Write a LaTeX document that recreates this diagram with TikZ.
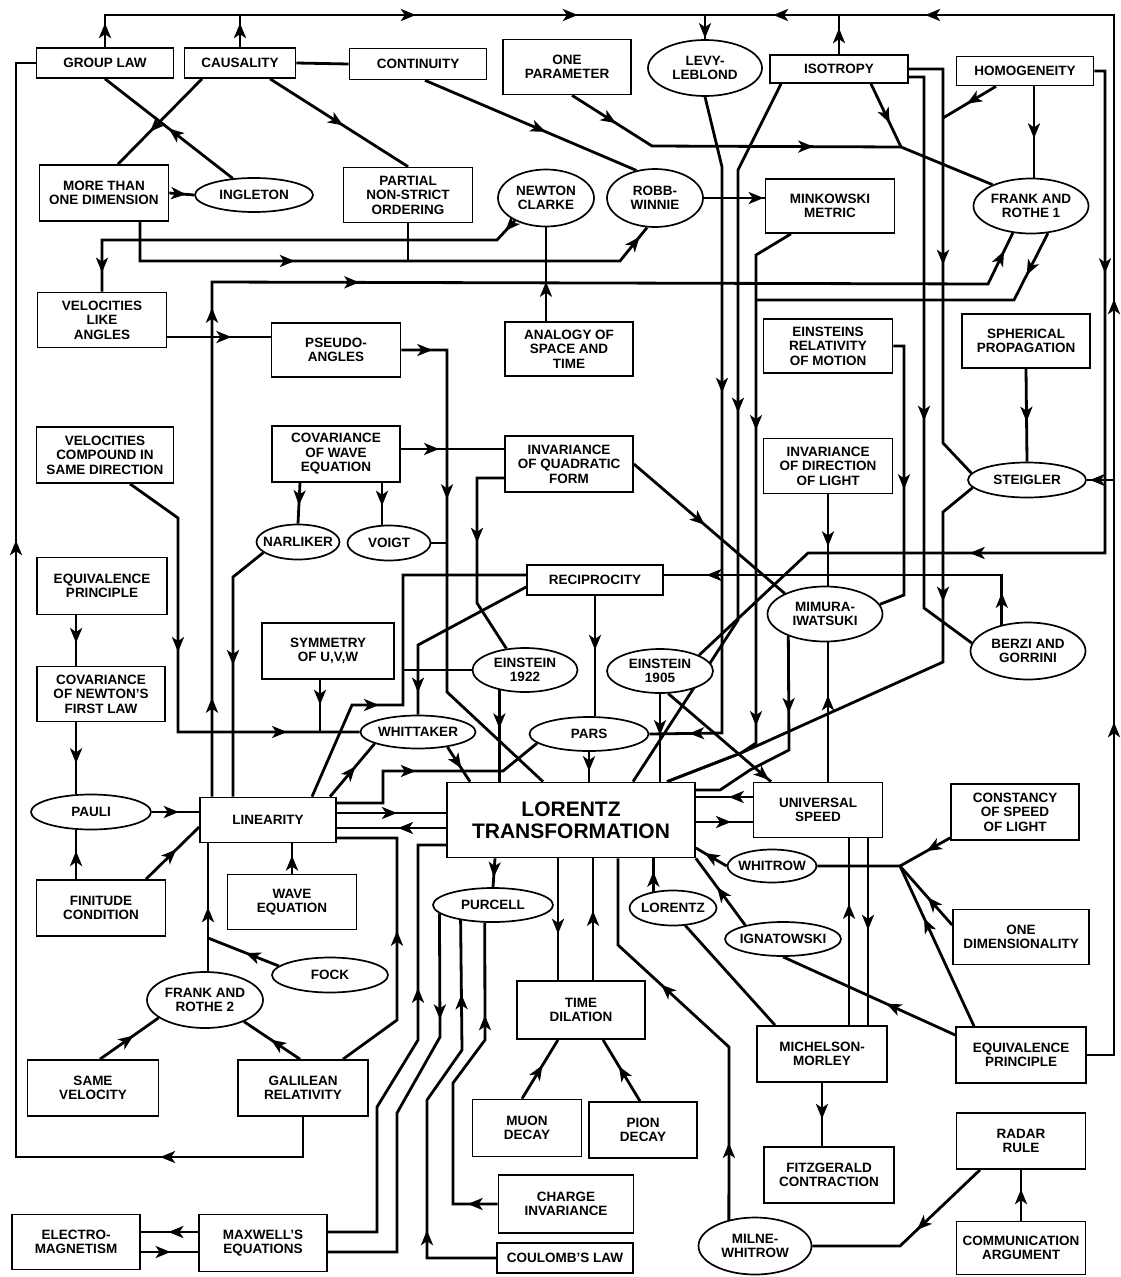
\documentclass[tikz,border=0pt]{standalone}
\usepackage{fontspec}
\setsansfont{Liberation Sans}
\usetikzlibrary{shapes.geometric, arrows.meta, decorations.markings, backgrounds}

\begin{document}
\begin{tikzpicture}[x=1pt, y=-1pt, >={Stealth[length=15pt,width=12pt,inset=4pt]},
    every node/.style={font=\sffamily\bfseries\fontsize{13.5}{14.5}\selectfont, align=center},
    box/.style={draw, fill=white, line width=1.7pt, minimum width=129pt, minimum height=55pt, inner sep=1pt},
    oval/.style={ellipse, draw, fill=white, line width=1.7pt, minimum width=115pt, minimum height=35pt, inner xsep=-6pt, inner ysep=0pt},
    link/.style={line width=2.8pt},
    ar/.style={postaction={decorate, decoration={markings, mark=at position #1 with {\arrow{>}}}}}]
  \useasboundingbox (0,0) rectangle (1121,1277);

  % Rails round the edge
  \coordinate (top) at (0,15);
  \coordinate (rail) at (1114,0);
  \coordinate (lrail) at (16,0);
  \coordinate (brail) at (0,1157);

  % Top rows
  \node[box, minimum width=137pt, minimum height=30pt] (group) at (105,63) {GROUP LAW};
  \node[box, minimum width=111pt, minimum height=30pt] (caus) at (240,63) {CAUSALITY};
  \node[box, minimum width=137pt, minimum height=31pt] (cont) at (418,64) {CONTINUITY};
  \node[box, minimum width=128pt] (onep) at (567,67) {ONE\\PARAMETER};
  \node[oval, minimum width=114pt, minimum height=56pt] (levy) at (705,68) {LEVY-\\LEBLOND};
  \node[box, minimum width=138pt, minimum height=28pt] (iso) at (839,69) {ISOTROPY};
  \node[box, minimum width=137pt, minimum height=29pt] (homo) at (1025,71) {HOMOGENEITY};
  \node[box, minimum height=56pt] (mtod) at (104,193) {MORE THAN\\ONE DIMENSION};
  \node[oval, minimum width=118pt, minimum height=34pt] (ingl) at (254,195) {INGLETON};
  \node[box] (pnso) at (408,195) {PARTIAL\\NON-STRICT\\ORDERING};
  \node[oval, minimum width=96pt, minimum height=57pt] (newt) at (546,198) {NEWTON\\CLARKE};
  \node[oval, minimum width=96pt, minimum height=58pt] (robb) at (655,198) {ROBB-\\WINNIE};
  \node[box, minimum height=54pt] (mink) at (830,206) {MINKOWSKI\\METRIC};
  \node[oval, minimum height=55pt] (fr1) at (1031,206) {FRANK AND\\ROTHE 1};

  % Middle rows
  \node[box] (vla) at (102,320) {VELOCITIES\\LIKE\\ANGLES};
  \node[box, minimum height=54pt] (pseudo) at (336,350) {PSEUDO-\\ANGLES};
  \node[box, minimum width=128pt, minimum height=54pt] (analogy) at (569,349) {ANALOGY OF\\SPACE AND\\TIME};
  \node[box, minimum height=54pt] (erm) at (828,346) {EINSTEINS\\RELATIVITY\\OF MOTION};
  \node[box, minimum width=128pt, minimum height=54pt] (sph) at (1026,341) {SPHERICAL\\PROPAGATION};
  \node[box, minimum width=137pt, minimum height=56pt] (vcsd) at (105,455) {VELOCITIES\\COMPOUND IN\\SAME DIRECTION};
  \node[box, minimum width=128pt, minimum height=56pt] (cwe) at (336,454) {COVARIANCE\\OF WAVE\\EQUATION};
  \node[box, minimum width=128pt, minimum height=56pt] (iqf) at (569,464) {INVARIANCE\\OF QUADRATIC\\FORM};
  \node[box] (idl) at (828,466) {INVARIANCE\\OF DIRECTION\\OF LIGHT};
  \node[oval, minimum width=118pt] (steig) at (1027,480) {STEIGLER};
  \node[oval, minimum width=83pt] (narl) at (298,542) {NARLIKER};
  \node[oval, minimum width=83pt] (voigt) at (389,543) {VOIGT};
  \node[box, minimum width=130pt, minimum height=57pt] (ep1) at (102,586) {EQUIVALENCE\\PRINCIPLE};
  \node[box, minimum width=136pt, minimum height=30pt] (recip) at (595,580) {RECIPROCITY};
  \node[oval, minimum height=55pt] (mimura) at (825,614) {MIMURA-\\IWATSUKI};
  \node[oval, minimum height=57pt] (berzi) at (1028,651) {BERZI AND\\GORRINI};
  \node[box, minimum width=128pt] (cnfl) at (101,694) {COVARIANCE\\OF NEWTON'S\\FIRST LAW};
  \node[box, minimum width=132pt, minimum height=56pt] (sym) at (328,651) {SYMMETRY\\OF U,V,W};
  \node[oval, minimum width=105pt, minimum height=44pt] (e1922) at (525,670) {EINSTEIN\\1922};
  \node[oval, minimum width=106pt, minimum height=44pt] (e1905) at (660,671) {EINSTEIN\\1905};
  \node[oval, minimum height=33pt] (whit) at (418,732) {WHITTAKER};
  \node[oval, minimum width=119pt, minimum height=34pt] (pars) at (589,734) {PARS};

  % Centre row
  \node[oval, minimum width=120pt] (pauli) at (91,812) {PAULI};
  \node[box, minimum width=136pt, minimum height=45pt] (lin) at (268,820) {LINEARITY};
  \node[box, minimum width=248pt, minimum height=75pt, font=\sffamily\bfseries\fontsize{21}{22}\selectfont] (lt) at (571,820) {LORENTZ\\TRANSFORMATION};
  \node[box] (us) at (818,810) {UNIVERSAL\\SPEED};
  \node[box, minimum width=128pt, minimum height=56pt] (csl) at (1015,812) {CONSTANCY\\OF SPEED\\OF LIGHT};
  \node[oval, minimum width=89pt, minimum height=33pt] (whitrow) at (772,866) {WHITROW};

  % Lower rows
  \node[box, minimum height=56pt] (fin) at (101,908) {FINITUDE\\CONDITION};
  \node[box] (wave) at (292,902) {WAVE\\EQUATION};
  \node[oval, minimum width=120pt, minimum height=34pt] (purc) at (493,905) {PURCELL};
  \node[oval, minimum width=87pt] (lor) at (673,908) {LORENTZ};
  \node[oval, minimum width=116pt, minimum height=34pt] (ign) at (783,939) {IGNATOWSKI};
  \node[box, minimum width=136pt] (onedim) at (1021,937) {ONE\\DIMENSIONALITY};
  \node[oval, minimum width=116pt] (fock) at (330,975) {FOCK};
  \node[oval, minimum width=116pt, minimum height=56pt] (fr2) at (205,1000) {FRANK AND\\ROTHE 2};
  \node[box, minimum width=128pt, minimum height=58pt] (td) at (581,1010) {TIME\\DILATION};
  \node[box, minimum width=130pt, minimum height=56pt] (mm) at (822,1054) {MICHELSON-\\MORLEY};
  \node[box, minimum width=130pt, minimum height=56pt] (ep2) at (1021,1055) {EQUIVALENCE\\PRINCIPLE};
  \node[box, minimum width=131pt, minimum height=56pt] (samev) at (93,1088) {SAME\\VELOCITY};
  \node[box, minimum width=130pt, minimum height=56pt] (gal) at (303,1088) {GALILEAN\\RELATIVITY};
  \node[box, minimum width=109pt, minimum height=57pt] (muon) at (527,1128) {MUON\\DECAY};
  \node[box, minimum width=108pt, minimum height=56pt] (pion) at (643,1130) {PION\\DECAY};
  \node[box, minimum width=130pt, minimum height=56pt] (fitz) at (829,1175) {FITZGERALD\\CONTRACTION};
  \node[box, minimum height=56pt] (radar) at (1021,1141) {RADAR\\RULE};
  \node[box, minimum width=135pt, minimum height=58pt] (charge) at (566,1204) {CHARGE\\INVARIANCE};
  \node[box, minimum width=136pt, minimum height=30pt] (coul) at (565,1258) {COULOMB'S LAW};
  \node[oval, minimum width=113pt, minimum height=57pt] (milne) at (755,1246) {MILNE-\\WHITROW};
  \node[box, minimum height=53pt] (comm) at (1021,1248) {COMMUNICATION\\ARGUMENT};
  \node[box, minimum width=128pt] (em) at (76,1242) {ELECTRO-\\MAGNETISM};
  \node[box, minimum width=128pt, minimum height=57pt] (maxw) at (263,1243) {MAXWELL'S\\EQUATIONS};

  \coordinate (j1) at (901,147);
  \coordinate (j2) at (943,118);
  \coordinate (j3) at (900,866);
  \coordinate (jf) at (208,938);

  \begin{pgfonlayer}{background}
  % Top rail
  \draw[link, ar=24pt, ar=343pt, ar=505pt, ar=-1pt] (group.north) |- (levy.north |- top) -- (levy.north);
  \draw[link, ar=24pt] (caus.north) -- (caus.north |- top);
  \draw[link, ar=360pt, ar=783pt, ar=1256pt, ar=1408pt] (ep2.east) -| (rail |- top) -- (levy.north |- top);
  \draw[link, ar=26pt] (iso.north) -- (iso.north |- top);
  \draw[link, ar=-3pt] (rail |- steig.east) -- (steig.east);

  % Top left
  \draw[link, ar=0.5] (ingl.142) -- (group.south);
  \draw[link, ar=0.62] ([xshift=-38pt]caus.south) -- ([xshift=14pt]mtod.north);
  \draw[link, ar=0.53] ([xshift=30pt]caus.south) -- (pnso.north);
  \draw[link] (caus.east) -- (cont.west);
  \draw[link, ar=0.57] ([xshift=7pt]cont.south) -- (robb.124);
  \draw[link, ar=-8pt] (mtod.east) -- (ingl.west);
  \draw[link, ar=194pt, ar=-12pt] ([xshift=36pt]mtod.south) -- (140,261) -- (620,261) -- (robb.255);
  \draw[link] (pnso.south) -- ++(0,39);
  \draw[link, ar=14pt, ar=454pt] (newt.216) -- (497,240) -- (102,240) -- (vla.north);
  \draw[link, ar=0.42] (newt.south |- analogy.north) -- (newt.south);
  \draw[link, ar=-1pt] (robb.east) -- (mink.west |- robb.east);

  % Top right
  \draw[link, ar=52pt, ar=256pt] ([xshift=5pt]onep.south) -- (652,146) -- (j1) -- (fr1.151);
  \draw[link, ar=0.62] ([xshift=32pt]iso.south) -- (j1);
  \draw[link, ar=0.57] ([xshift=9pt]homo.south) -- ([xshift=3pt]fr1.north);
  \draw[link, ar=230pt] (iso.east) -| (943,443) -- (steig.173);
  \draw[link, ar=0.55] ([xshift=-29pt]homo.south) -- (j2);
  \draw[link, ar=359pt] ([yshift=-8pt]iso.east) -| (924,608) -- (berzi.172);
  \draw[link, ar=213pt, ar=628pt] (homo.east) -| (1105,553) -- (808,553) -- (e1905.22);
  \draw[link, ar=0.57] (sph.south) -- (steig.north);
  \draw[link, ar=128pt] (steig.188) -- (943,512) -- (943,662) -- (741,753) -- ([xshift=96pt]lt.north);
  \draw[link, ar=32pt, ar=345pt] (berzi.135) |- ([yshift=5pt]recip.east);
  \draw[link, ar=298pt, ar=671pt] (levy.south) -- (722,167) -- (722,733) -- (pars.east);
  \draw[link, ar=339pt] ([xshift=-58pt]iso.south) -- (738,170) -- (738,620) -- ([xshift=62pt]lt.north);
  \draw[link, ar=216pt, ar=512pt] ([xshift=-39pt]mink.south) -- (756,255) -- (756,743) -- (741,753) -- ([xshift=96pt]lt.north);
  \draw[link, ar=47pt] (fr1.302) -- (1014,300) -- (756,300);
  \draw[link, ar=99pt, ar=489pt, ar=662pt, ar=-20pt] ([xshift=-56pt]lin.north) -- (212,282) -- (988,284) -- (fr1.236);

  % Middle
  \draw[link, ar=0.62] ([yshift=-17pt]vla.east) -- ([yshift=13pt]pseudo.west);
  \draw[link, ar=31pt, ar=195pt] (pseudo.east) -- (447,350) -- (447,692) -- ([xshift=-28pt]lt.north);
  \draw[link] (voigt.east) -- ++(17,0);
  \draw[link, ar=0.55] ([xshift=-36pt]cwe.south) -- (narl.north);
  \draw[link, ar=0.55] ([xshift=46pt]cwe.south) -- ([xshift=-7pt]voigt.north);
  \draw[link, ar=0.37] ([yshift=5pt]cwe.east) -- ([yshift=5pt]cwe.east -| iqf.west);
  \draw[link, ar=92pt] ([yshift=-14pt]iqf.west) -- (477,478) -- (477,603) -- (e1922.131);
  \draw[link, ar=0.47] (iqf.east) -- (mimura.153);
  \draw[link, ar=0.57] (idl.south) -- (idl.south |- mimura.north);
  \draw[link, ar=154pt] (erm.east) -| (904,595) -- (mimura.10);
  \draw[link, ar=0.62] ([xshift=10pt]us.north) -- ([xshift=3pt]mimura.south);
  \draw[link, ar=77pt] (mimura.211) -- (789,750) -- (750,770) -- (720,790) -- ([yshift=30pt]lt.east);
  \draw[link, ar=0.47] (e1905.south) -- (e1905.south |- lt.north);
  \draw[link, ar=-3pt] (e1905.290) -- ([xshift=-47pt]us.north);
  \draw[link, ar=0.45] (recip.south) -- (recip.south |- pars.north);
  \draw[link, ar=-22pt] ([yshift=-7pt]recip.west) -- (418,645) -- (whit.north);
  \draw[link, ar=127pt] ([xshift=44pt]lin.north) -- (352,705) -- (403,705) -- (403,575) -- ([yshift=5pt]recip.west);
  \draw[link] (e1922.west) -- (403,670);
  \draw[link, ar=0.42] (e1922.218) -- (e1922.218 |- lt.north);
  \draw[link, ar=0.65] (pars.south) -- (pars.south |- lt.north);
  \draw[link, ar=0.62] (whit.333) -- ([xshift=-101pt]lt.north);
  \draw[link, ar=193pt, ar=382pt] ([xshift=25pt]vcsd.south) -- (178,518) -- (178,732) -- (whit.west);
  \draw[link, ar=0.47] ([xshift=-8pt]sym.south) -- ++(0,53);
  \draw[link, ar=0.57] ([xshift=62pt]lin.north) -- (whit.195);
  \draw[link, ar=127pt] (narl.197) -- (233,577) -- ([xshift=-35pt]lin.north);

  % Left column
  \draw[link, ar=0.55] (ep1.south -| pauli.130) -- (cnfl.north -| pauli.130);
  \draw[link, ar=0.57] (cnfl.south -| pauli.130) -- (pauli.130);
  \draw[link, ar=0.57] (fin.north -| pauli.230) -- (pauli.230);
  \draw[link, ar=0.57] (pauli.east) -- (pauli.east -| lin.west);
  \draw[link, ar=0.57] ([xshift=45pt]fin.north) -- ([yshift=-7pt]lin.west);
  \draw[link, ar=0.6] (wave.north) -- (wave.north |- lin.south);
  \draw[link, ar=64pt] ([xshift=3pt]fr2.north) -- ([xshift=3pt]fr2.north |- lin.south);
  \draw[link, ar=0.47] (fock.170) -- (jf);
  \draw[link, ar=0.52] ([xshift=-3pt]gal.north) -- (fr2.331);
  \draw[link, ar=0.57] ([xshift=7pt]samev.north) -- (fr2.201);
  \draw[link, ar=183pt, ar=944pt] (gal.south) -- (gal.south |- brail) -| (lrail |- group.west) -- (group.west);

  % Linearity and Lorentz transformation
  \draw[link, ar=0.55] ([yshift=7pt]lin.east) -- ([yshift=7pt]lin.east -| lt.west);
  \draw[link, ar=0.44] ([yshift=-8pt]lin.east -| lt.west) -- ([yshift=-8pt]lin.east);
  \draw[link, ar=111pt] ([yshift=17pt]lin.east) -- (383,803) -- (383,771) -- (503,771) -- (pars.190);
  \draw[link, ar=0.42] ([yshift=13pt]us.west) -- ([yshift=13pt]us.west -| lt.east);
  \draw[link, ar=0.62] ([yshift=-12pt]us.west -| lt.east) -- ([yshift=-12pt]us.west);
  \draw[link, ar=-10pt] (whitrow.west) -- ([yshift=-28pt]lt.east);
  \draw[link, ar=0.57] (ign.160) -- (lt.south east);
  \draw[link, ar=0.6] (lor.140) -- (lor.140 |- lt.south);
  \draw[link, ar=0.65] ([xshift=-76pt]lt.south) -- (purc.north);
  \draw[link, ar=0.62] ([xshift=-13pt]lt.south) -- ([xshift=-23pt]td.north);
  \draw[link, ar=0.57] ([xshift=12pt]td.north) -- ([xshift=22pt]lt.south);
  \draw[link, ar=77pt, ar=265pt] (milne.135) -- (729,1047) -- (618,945) -- ([xshift=47pt]lt.south);

  % Right side
  \draw[link, ar=0.65] ([xshift=27pt]mm.north) -- ([xshift=27pt]mm.north |- us.south);
  \draw[link, ar=0.49] ([xshift=46pt]mm.north |- us.south) -- ([xshift=46pt]mm.north);
  \draw[link] ([xshift=-47pt]mm.north) -- (lor.305);
  \draw[link, ar=0.57] (mm.south) -- (mm.south |- fitz.north);
  \draw[link, ar=0.4] ([yshift=20pt]ep2.west) -- (ign.south);
  \draw[link, ar=119pt] ([xshift=-47pt]ep2.north) -- (j3) -- (whitrow.east);
  \draw[link, ar=0.47] ([yshift=12pt]onedim.west) -- (j3);
  \draw[link, ar=0.47] ([yshift=3pt]csl.south west) -- (j3);
  \draw[link, ar=0.62] (comm.north) -- (radar.south);
  \draw[link, ar=87pt] ([xshift=-41pt]radar.south) -- (900,1246) -- (milne.east);

  % Bottom
  \draw[link, ar=0.57] ([xshift=-5pt]muon.north) -- ([xshift=-23pt]td.south);
  \draw[link, ar=0.57] ([xshift=-3pt]pion.north) -- ([xshift=22pt]td.south);
  \draw[link, ar=106pt] (purc.189) -- (440,1037) -- (397,1113) -- (397,1252) -- ([yshift=-9pt]maxw.east);
  \draw[link, ar=97pt, ar=344pt] (coul.west) -- (427,1258) -- (427,1100) -- (462,1050) -- (purc.205);
  \draw[link, ar=30pt, ar=244pt] (charge.west) -- (453,1204) -- (453,1083) -- (485,1040) -- (purc.245);
  \draw[link, ar=305pt] ([yshift=11pt]maxw.east) -- (377,1232) -- (377,1107) -- (418,1040) -- (418,845) -- ([yshift=-25pt]lt.west);
  \draw[link, ar=156pt] ([xshift=40pt]gal.north) -- (397,1020) -- (397,838) -- ([yshift=-18pt]lin.east);
  \draw[link, ar=0.52] ([yshift=11pt]maxw.west) -- ([yshift=11pt]maxw.west -| em.east);
  \draw[link, ar=0.52] ([yshift=-10pt]em.east) -- ([yshift=-10pt]em.east -| maxw.west);
  \end{pgfonlayer}
\end{tikzpicture}
\end{document}
